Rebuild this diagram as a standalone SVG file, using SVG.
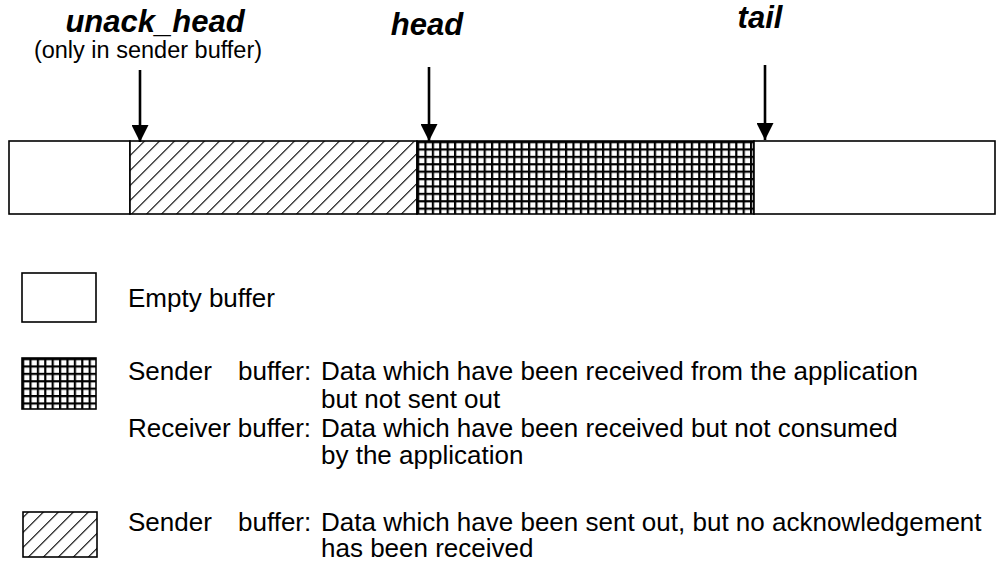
<svg xmlns="http://www.w3.org/2000/svg" width="1003" height="567" viewBox="0 0 1003 567">
  <defs>
    <style>
      .label { font-family: "Liberation Sans", Arial, sans-serif; font-size: 26px; fill: #000; }
      .ptr { font-family: "Liberation Sans", Arial, sans-serif; font-size: 31px; font-weight: bold; font-style: italic; fill: #000; }
      .note { font-family: "Liberation Sans", Arial, sans-serif; font-size: 23.5px; fill: #000; }
      .box { stroke: #000; stroke-width: 1.6; }
      .arrow { stroke: #000; stroke-width: 2.6; fill: none; marker-end: url(#head); }
    </style>
    <!-- diagonal hatching: sent but unacknowledged data -->
    <pattern id="diag" patternUnits="userSpaceOnUse" width="10.6" height="10.6" patternTransform="rotate(45)">
      <rect width="10.6" height="10.6" fill="#fff"/>
      <line x1="0" y1="0" x2="0" y2="10.6" stroke="#000" stroke-width="2.2"/>
    </pattern>
    <!-- fine grid: data waiting in the buffer -->
    <pattern id="grid" patternUnits="userSpaceOnUse" width="7.4" height="7.4" x="417" y="141">
      <rect width="7.4" height="7.4" fill="#000"/>
      <rect x="2.2" y="2.2" width="5.2" height="5.2" fill="#fff"/>
    </pattern>
    <pattern id="gridL" patternUnits="userSpaceOnUse" width="7.4" height="7.4" x="22" y="358">
      <rect width="7.4" height="7.4" fill="#000"/>
      <rect x="2.2" y="2.2" width="5.2" height="5.2" fill="#fff"/>
    </pattern>
    <marker id="head" viewBox="0 0 10 10" refX="10" refY="5" markerUnits="userSpaceOnUse" markerWidth="19" markerHeight="17" orient="auto">
      <path d="M0,0 L10,5 L0,10 Z" fill="#000"/>
    </marker>
  </defs>

  <rect width="1003" height="567" fill="#fff"/>

  <!-- circular buffer bar -->
  <g id="buffer">
    <rect class="box" x="9" y="141" width="121" height="73" fill="#fff"/>
    <rect class="box" x="130" y="141" width="287" height="73" fill="url(#diag)"/>
    <rect class="box" x="417" y="141" width="337" height="73" fill="url(#grid)"/>
    <rect class="box" x="754" y="141" width="241" height="73" fill="#fff"/>
  </g>

  <!-- pointer labels -->
  <g id="unack_head">
    <text class="ptr" x="155" y="32" text-anchor="middle">unack_head</text>
    <text class="note" x="148" y="58" text-anchor="middle">(only in sender buffer)</text>
  </g>
  <g id="head_ptr">
    <text class="ptr" x="427" y="35" text-anchor="middle">head</text>
  </g>
  <g id="tail_ptr">
    <text class="ptr" x="760" y="28" text-anchor="middle">tail</text>
  </g>

  <!-- pointer arrows -->
  <g id="connectors">
    <line class="arrow" x1="140" y1="70" x2="140" y2="142"/>
    <line class="arrow" x1="429" y1="67" x2="429" y2="141"/>
    <line class="arrow" x1="765" y1="65" x2="765" y2="140"/>
  </g>

  <!-- legend -->
  <g id="legend-empty">
    <rect class="box" x="22" y="273" width="74" height="49" fill="#fff"/>
    <text class="label" x="128" y="307">Empty buffer</text>
  </g>
  <g id="legend-pending">
    <rect class="box" x="22" y="358" width="74" height="51" fill="url(#gridL)"/>
    <text class="label" x="128" y="380">Sender</text>
    <text class="label" x="238" y="380">buffer:</text>
    <text class="label" x="321" y="380">Data which have been received from the application</text>
    <text class="label" x="321" y="408">but not sent out</text>
    <text class="label" x="128" y="437">Receiver buffer:</text>
    <text class="label" x="321" y="437">Data which have been received but not consumed</text>
    <text class="label" x="321" y="464">by the application</text>
  </g>
  <g id="legend-unacked">
    <rect class="box" x="23" y="512" width="74" height="45" fill="url(#diag)"/>
    <text class="label" x="128" y="531">Sender</text>
    <text class="label" x="238" y="531">buffer:</text>
    <text class="label" x="321" y="531">Data which have been sent out, but no acknowledgement</text>
    <text class="label" x="321" y="557">has been received</text>
  </g>
</svg>
